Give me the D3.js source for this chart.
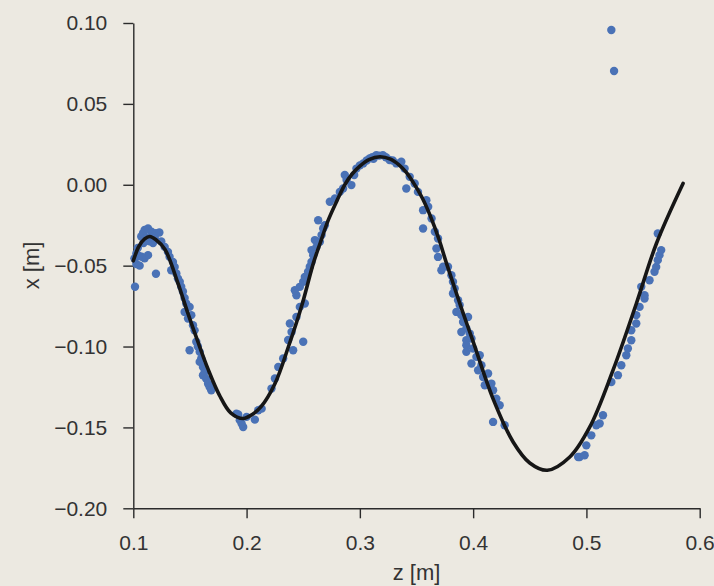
<!DOCTYPE html>
<html>
<head>
<meta charset="utf-8">
<script src="https://cdn.jsdelivr.net/npm/d3@7"></script>
<style>
  html, body { margin: 0; padding: 0; background: #ece9e1; }
  svg { display: block; }
  .tick text { font-family: "Liberation Sans", Arial, sans-serif; font-size: 21px; fill: #333; }
  .tick line, .domain { stroke: #2b2b2b; stroke-width: 1.4px; }
</style>
</head>
<body>
<svg id="chart" width="714" height="586"></svg>
<script>
// measured positions along z [m] and displacement x [m]
var sampleZ = [
  0.1015, 0.1027, 0.1010, 0.1040, 0.1027, 0.1056, 0.1070, 0.1086, 0.1100, 0.1130,
  0.1100, 0.1130, 0.1074, 0.1115, 0.1145, 0.1174, 0.1160, 0.1200, 0.1230, 0.1200,
  0.1050, 0.1090, 0.1150, 0.1190,
  0.1247, 0.1277, 0.1306, 0.1320, 0.1350, 0.1365, 0.1335, 0.1380, 0.1394, 0.1410,
  0.1423, 0.1438, 0.1453, 0.1467, 0.1453, 0.1497, 0.1483, 0.1512, 0.1527, 0.1541,
  0.1497, 0.1556, 0.1570, 0.1586, 0.1600, 0.1586, 0.1615, 0.1630, 0.1615, 0.1644,
  0.1660, 0.1674, 0.1688,
  0.1910, 0.1926, 0.1940, 0.1970, 0.1956, 0.2000, 0.2073, 0.2103, 0.2133,
  0.2220, 0.2250, 0.2280, 0.2323, 0.2411, 0.2500, 0.2367, 0.2397, 0.2382, 0.2440,
  0.2470, 0.2514, 0.2440, 0.2426, 0.2470, 0.2500, 0.2514, 0.2543, 0.2558, 0.2573,
  0.2588, 0.2573, 0.2617, 0.2603, 0.2647, 0.2662, 0.2676, 0.2691, 0.2632, 0.2735,
  0.2780, 0.2823, 0.2852, 0.2867,
  0.2925, 0.2970, 0.2883, 0.3030, 0.3086, 0.3145, 0.3203, 0.3262, 0.3322, 0.3366,
  0.3395, 0.3410, 0.3440, 0.3484, 0.3513, 0.3587, 0.3558, 0.3603, 0.3558, 0.3633,
  0.3662, 0.3690, 0.3676, 0.3690, 0.3735, 0.3000, 0.3060, 0.3110, 0.3170, 0.3230,
  0.3290, 0.3120, 0.2950,
  0.3778, 0.3720, 0.3808, 0.3822, 0.3837, 0.3822, 0.3867, 0.3881, 0.3852, 0.3896,
  0.3955, 0.3911, 0.3896, 0.3940, 0.3970, 0.3985, 0.3940, 0.3940, 0.4000, 0.3940,
  0.4058, 0.4029, 0.3985, 0.4073, 0.4044, 0.4132, 0.4088, 0.4103, 0.4161, 0.4176,
  0.4205, 0.4234, 0.4176, 0.4278,
  0.4927, 0.4940, 0.4984, 0.4999, 0.5043, 0.5087, 0.5117, 0.5146, 0.5220, 0.5278,
  0.5308, 0.5352, 0.5366, 0.5396, 0.5396, 0.5440, 0.5440, 0.5469, 0.5513, 0.5513,
  0.5484, 0.5557, 0.5601, 0.5616, 0.5630, 0.5645, 0.5660, 0.5630,
  0.5220, 0.5244
];
var sampleX = [
  -0.0630, -0.0425, -0.0455, -0.0390, -0.0490, -0.0500, -0.0320, -0.0300, -0.0280, -0.0270,
  -0.0455, -0.0435, -0.0445, -0.0330, -0.0350, -0.0360, -0.0290, -0.0300, -0.0295, -0.0550,
  -0.0440, -0.0360, -0.0320, -0.0330,
  -0.0350, -0.0384, -0.0415, -0.0445, -0.0477, -0.0508, -0.0528, -0.0548, -0.0580, -0.0600,
  -0.0630, -0.0660, -0.0700, -0.0734, -0.0786, -0.0755, -0.0827, -0.0806, -0.0868, -0.0900,
  -0.1023, -0.0970, -0.1000, -0.1033, -0.1074, -0.1095, -0.1126, -0.1157, -0.1178, -0.1200,
  -0.1230, -0.1250, -0.1270,
  -0.1415, -0.1420, -0.1455, -0.1497, -0.1476, -0.1435, -0.1452, -0.1394, -0.1384,
  -0.1260, -0.1198, -0.1126, -0.1074, -0.1023, -0.0970, -0.0960, -0.0910, -0.0858, -0.0817,
  -0.0755, -0.0734, -0.0683, -0.0652, -0.0631, -0.0600, -0.0570, -0.0538, -0.0507, -0.0477,
  -0.0435, -0.0404, -0.0384, -0.0342, -0.0353, -0.0311, -0.0270, -0.0250, -0.0219, -0.0105,
  -0.0084, -0.0044, -0.0023, 0.0060,
  -0.0002, 0.0100, 0.0030, 0.0132, 0.0163, 0.0183, 0.0183, 0.0153, 0.0132, 0.0142,
  0.0100, -0.0023, 0.0049, 0.0008, -0.0044, -0.0095, -0.0157, -0.0136, -0.0270, -0.0208,
  -0.0290, -0.0332, -0.0394, -0.0446, -0.0507, 0.0120, 0.0150, 0.0170, 0.0180, 0.0170,
  0.0150, 0.0160, 0.0060,
  -0.0507, -0.0528, -0.0559, -0.0600, -0.0641, -0.0672, -0.0714, -0.0744, -0.0786, -0.0806,
  -0.0817, -0.0848, -0.0910, -0.0889, -0.0920, -0.0950, -0.0961, -0.0992, -0.1012, -0.1033,
  -0.1054, -0.1064, -0.1105, -0.1116, -0.1147, -0.1167, -0.1188, -0.1239, -0.1229, -0.1270,
  -0.1322, -0.1363, -0.1466, -0.1487,
  -0.1683, -0.1683, -0.1672, -0.1611, -0.1549, -0.1487, -0.1476, -0.1425, -0.1219, -0.1177,
  -0.1116, -0.1054, -0.1012, -0.0961, -0.0899, -0.0858, -0.0806, -0.0755, -0.0703, -0.0683,
  -0.0631, -0.0590, -0.0538, -0.0508, -0.0466, -0.0435, -0.0404, -0.0301,
  0.0957, 0.0703
];

// fitted model evaluated along z
var fitZ = [0.100, 0.105, 0.110, 0.1145, 0.120, 0.128, 0.139, 0.148, 0.157, 0.166,
            0.176, 0.186, 0.197, 0.205, 0.213, 0.225, 0.237, 0.249, 0.2589, 0.265,
            0.272, 0.280, 0.2867, 0.293, 0.300, 0.308, 0.3177, 0.327, 0.335, 0.341,
            0.3471, 0.355, 0.362, 0.370, 0.3765, 0.390, 0.400, 0.4177, 0.4353, 0.450,
            0.4655, 0.4853, 0.503, 0.5235, 0.5441, 0.5618, 0.5853];
var fitX = [-0.047, -0.038, -0.0335, -0.032, -0.034, -0.040, -0.060, -0.079, -0.097, -0.114,
            -0.130, -0.141, -0.1445, -0.142, -0.137, -0.123, -0.100, -0.074, -0.0486, -0.036,
            -0.022, -0.0095, 0.000, 0.0065, 0.0115, 0.0155, 0.0173, 0.0158, 0.012, 0.0077,
            0.0015, -0.008, -0.0189, -0.034, -0.0486, -0.077, -0.097, -0.1325, -0.159, -0.172,
            -0.1765, -0.1683, -0.1497, -0.1146, -0.0734, -0.0363, 0.0008];

var zTicks = [0.1, 0.2, 0.3, 0.4, 0.5, 0.6];
var xTicks = [0.10, 0.05, 0.00, -0.05, -0.10, -0.15, -0.20];

var svg = d3.select('#chart');
var W = 714, H = 586;

svg.append('rect').attr('width', W).attr('height', H).attr('fill', '#ece9e1');

var zScale = d3.scaleLinear().domain([0.1, 0.6]).range([133.3, 699.7]);
var xScale = d3.scaleLinear().domain([-0.2, 0.1]).range([508.3, 23]);

// axes
svg.append('g')
  .attr('transform', 'translate(0,508.3)')
  .call(d3.axisBottom(zScale).tickValues(zTicks).tickFormat(d3.format('.1f'))
    .tickSize(10).tickSizeOuter(0).tickPadding(17));

svg.append('g')
  .attr('transform', 'translate(133.3,0)')
  .call(d3.axisLeft(xScale).tickValues(xTicks).tickFormat(d3.format('.2f'))
    .tickSize(10).tickSizeOuter(0).tickPadding(16));

// data points
var pts = sampleZ.map(function(z, i) { return { z: z, x: sampleX[i] }; });
svg.append('g')
  .selectAll('circle')
  .data(pts)
  .enter()
  .append('circle')
  .attr('cx', d => zScale(d.z))
  .attr('cy', d => xScale(d.x))
  .attr('r', 4.2)
  .attr('fill', '#4a72b6');

// fit curve on top
var fit = fitZ.map(function(z, i) { return [z, fitX[i]]; });
svg.append('path')
  .datum(fit)
  .attr('fill', 'none')
  .attr('stroke', '#161616')
  .attr('stroke-width', 3.6)
  .attr('stroke-linecap', 'round')
  .attr('d', d3.line()
    .x(d => zScale(d[0]))
    .y(d => xScale(d[1]))
    .curve(d3.curveCatmullRom));

// axis titles
svg.append('text')
  .attr('x', 416.5)
  .attr('y', 580)
  .attr('text-anchor', 'middle')
  .attr('font-family', '"Liberation Sans", Arial, sans-serif')
  .attr('font-size', '22px')
  .attr('fill', '#333')
  .text('z [m]');

svg.append('text')
  .attr('transform', 'translate(38.5,265.5) rotate(-90)')
  .attr('text-anchor', 'middle')
  .attr('font-family', '"Liberation Sans", Arial, sans-serif')
  .attr('font-size', '22px')
  .attr('fill', '#333')
  .text('x [m]');
</script>
</body>
</html>
